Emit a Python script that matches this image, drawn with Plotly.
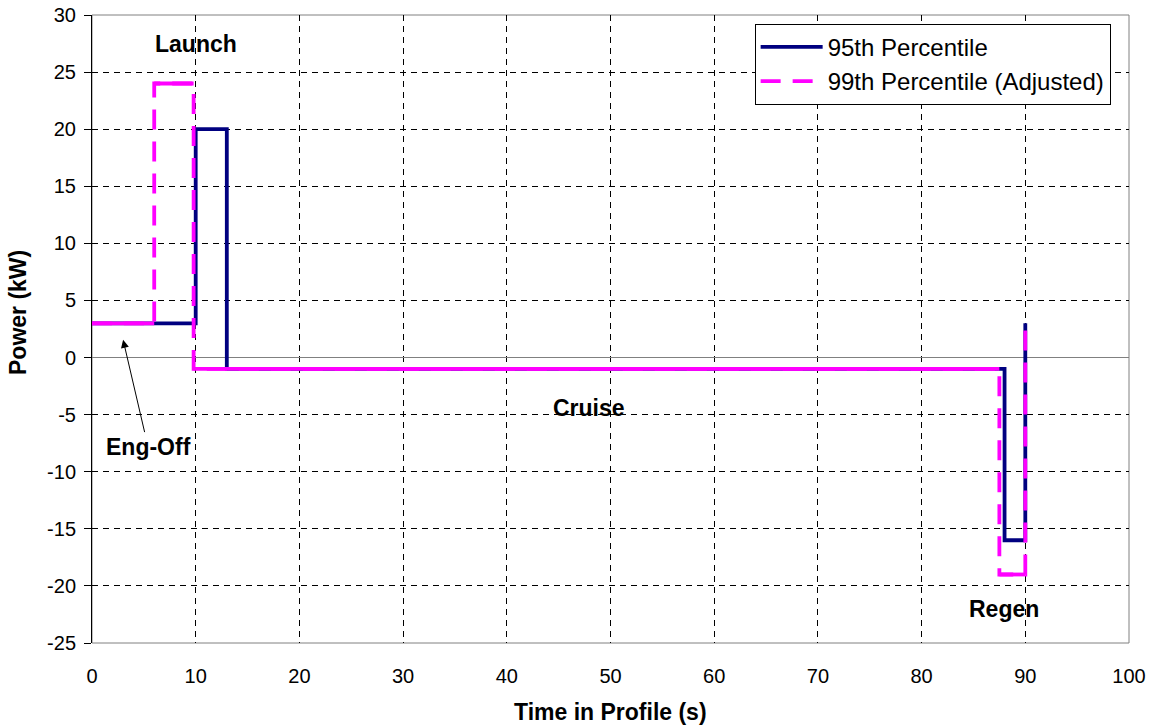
import plotly.graph_objects as go

# Data
time_95 = [0, 10, 10, 13, 13, 88, 88, 90, 90]
power_95 = [3, 3, 20, 20, -1, -1, -16, -16, 3]
time_99 = [0, 6, 6, 9.8, 9.8, 87.5, 87.5, 90, 90]
power_99 = [3, 3, 24, 24, -1, -1, -19, -19, 3]

x_ticks = [0, 10, 20, 30, 40, 50, 60, 70, 80, 90, 100]
x_ticklabels = [str(v) for v in x_ticks]
y_ticks = [-25, -20, -15, -10, -5, 0, 5, 10, 15, 20, 25, 30]
y_ticklabels = [str(v) for v in y_ticks]

FONT = "Arial, Liberation Sans, sans-serif"
PINK = "#FF00FF"
NAVY = "#000080"


def horizontal_parts(xs, ys):
    """Split a step series into its flat (horizontal) segments, separated by gaps."""
    hx, hy = [], []
    for i in range(len(xs) - 1):
        if ys[i] == ys[i + 1]:
            hx += [xs[i], xs[i + 1], None]
            hy += [ys[i], ys[i + 1], None]
    return hx, hy


fig = go.Figure()
fig.add_trace(go.Scatter(x=time_95, y=power_95, mode="lines", name="95th Percentile",
                         line=dict(color=NAVY, width=3.8)))
fig.add_trace(go.Scatter(x=time_99, y=power_99, mode="lines", name="99th Percentile (Adjusted)",
                         line=dict(color=PINK, width=3.8, dash="20px,12px")))
hx, hy = horizontal_parts(time_99, power_99)
fig.add_trace(go.Scatter(x=hx, y=hy, mode="lines", showlegend=False, connectgaps=False,
                         line=dict(color=PINK, width=3.8)))

fig.update_layout(
    width=1152, height=727,
    margin=dict(l=92, r=23, t=15, b=84, autoexpand=False),
    paper_bgcolor="white", plot_bgcolor="white",
    font=dict(family=FONT, color="black"),
    showlegend=True,
    legend=dict(x=0.639, y=0.986, xanchor="left", yanchor="top",
                bordercolor="black", borderwidth=1, bgcolor="white", itemwidth=62,
                font=dict(size=24, family=FONT), tracegroupgap=0),
    xaxis=dict(range=[0, 100], tickvals=x_ticks, ticktext=x_ticklabels, automargin=False,
               showgrid=True, gridcolor="black", griddash="6px,5px", gridwidth=1,
               zeroline=False, showline=False, ticks="",
               tickfont=dict(size=20, family=FONT), ticklabelstandoff=19),
    yaxis=dict(range=[-25, 30], tickvals=y_ticks, ticktext=y_ticklabels, automargin=False,
               showgrid=True, gridcolor="black", griddash="6px,5px", gridwidth=1,
               zeroline=True, zerolinecolor="#808080", zerolinewidth=1,
               showline=True, linecolor="black", linewidth=1,
               ticks="outside", ticklen=7, tickcolor="black",
               tickfont=dict(size=20, family=FONT), ticklabelstandoff=4),
    shapes=[dict(type="rect", xref="paper", yref="paper", x0=0, x1=1, y0=0, y1=1,
                 line=dict(color="#808080", width=1), layer="below")],
    annotations=[
        dict(text="<b>Time in Profile (s)</b>", xref="paper", yref="paper", x=0.5, y=-0.11,
             xanchor="center", yanchor="middle", showarrow=False, font=dict(size=23, family=FONT)),
        dict(text="<b>Power (kW)</b>", xref="paper", yref="paper", x=-0.0714, y=0.527,
             xanchor="center", yanchor="middle", textangle=-90, showarrow=False,
             font=dict(size=23, family=FONT)),
        dict(text="<b>Launch</b>", x=10.0, y=27.5, xref="x", yref="y", showarrow=False,
             font=dict(size=23, family=FONT)),
        dict(text="<b>Cruise</b>", x=47.9, y=-4.4, xref="x", yref="y", showarrow=False,
             font=dict(size=23, family=FONT)),
        dict(text="<b>Regen</b>", x=87.9, y=-22.0, xref="x", yref="y", showarrow=False,
             font=dict(size=23, family=FONT)),
        dict(text="<b>Eng-Off</b>", x=3.0, y=1.55, xref="x", yref="y",
             ax=5.4, ay=-7.8, axref="x", ayref="y", showarrow=True,
             arrowhead=2, arrowsize=1.6, arrowwidth=1, arrowcolor="black",
             font=dict(size=23, family=FONT)),
    ],
)

fig.write_html("out.html", config={"displayModeBar": False},
               post_script="document.body.style.margin='0px';")
